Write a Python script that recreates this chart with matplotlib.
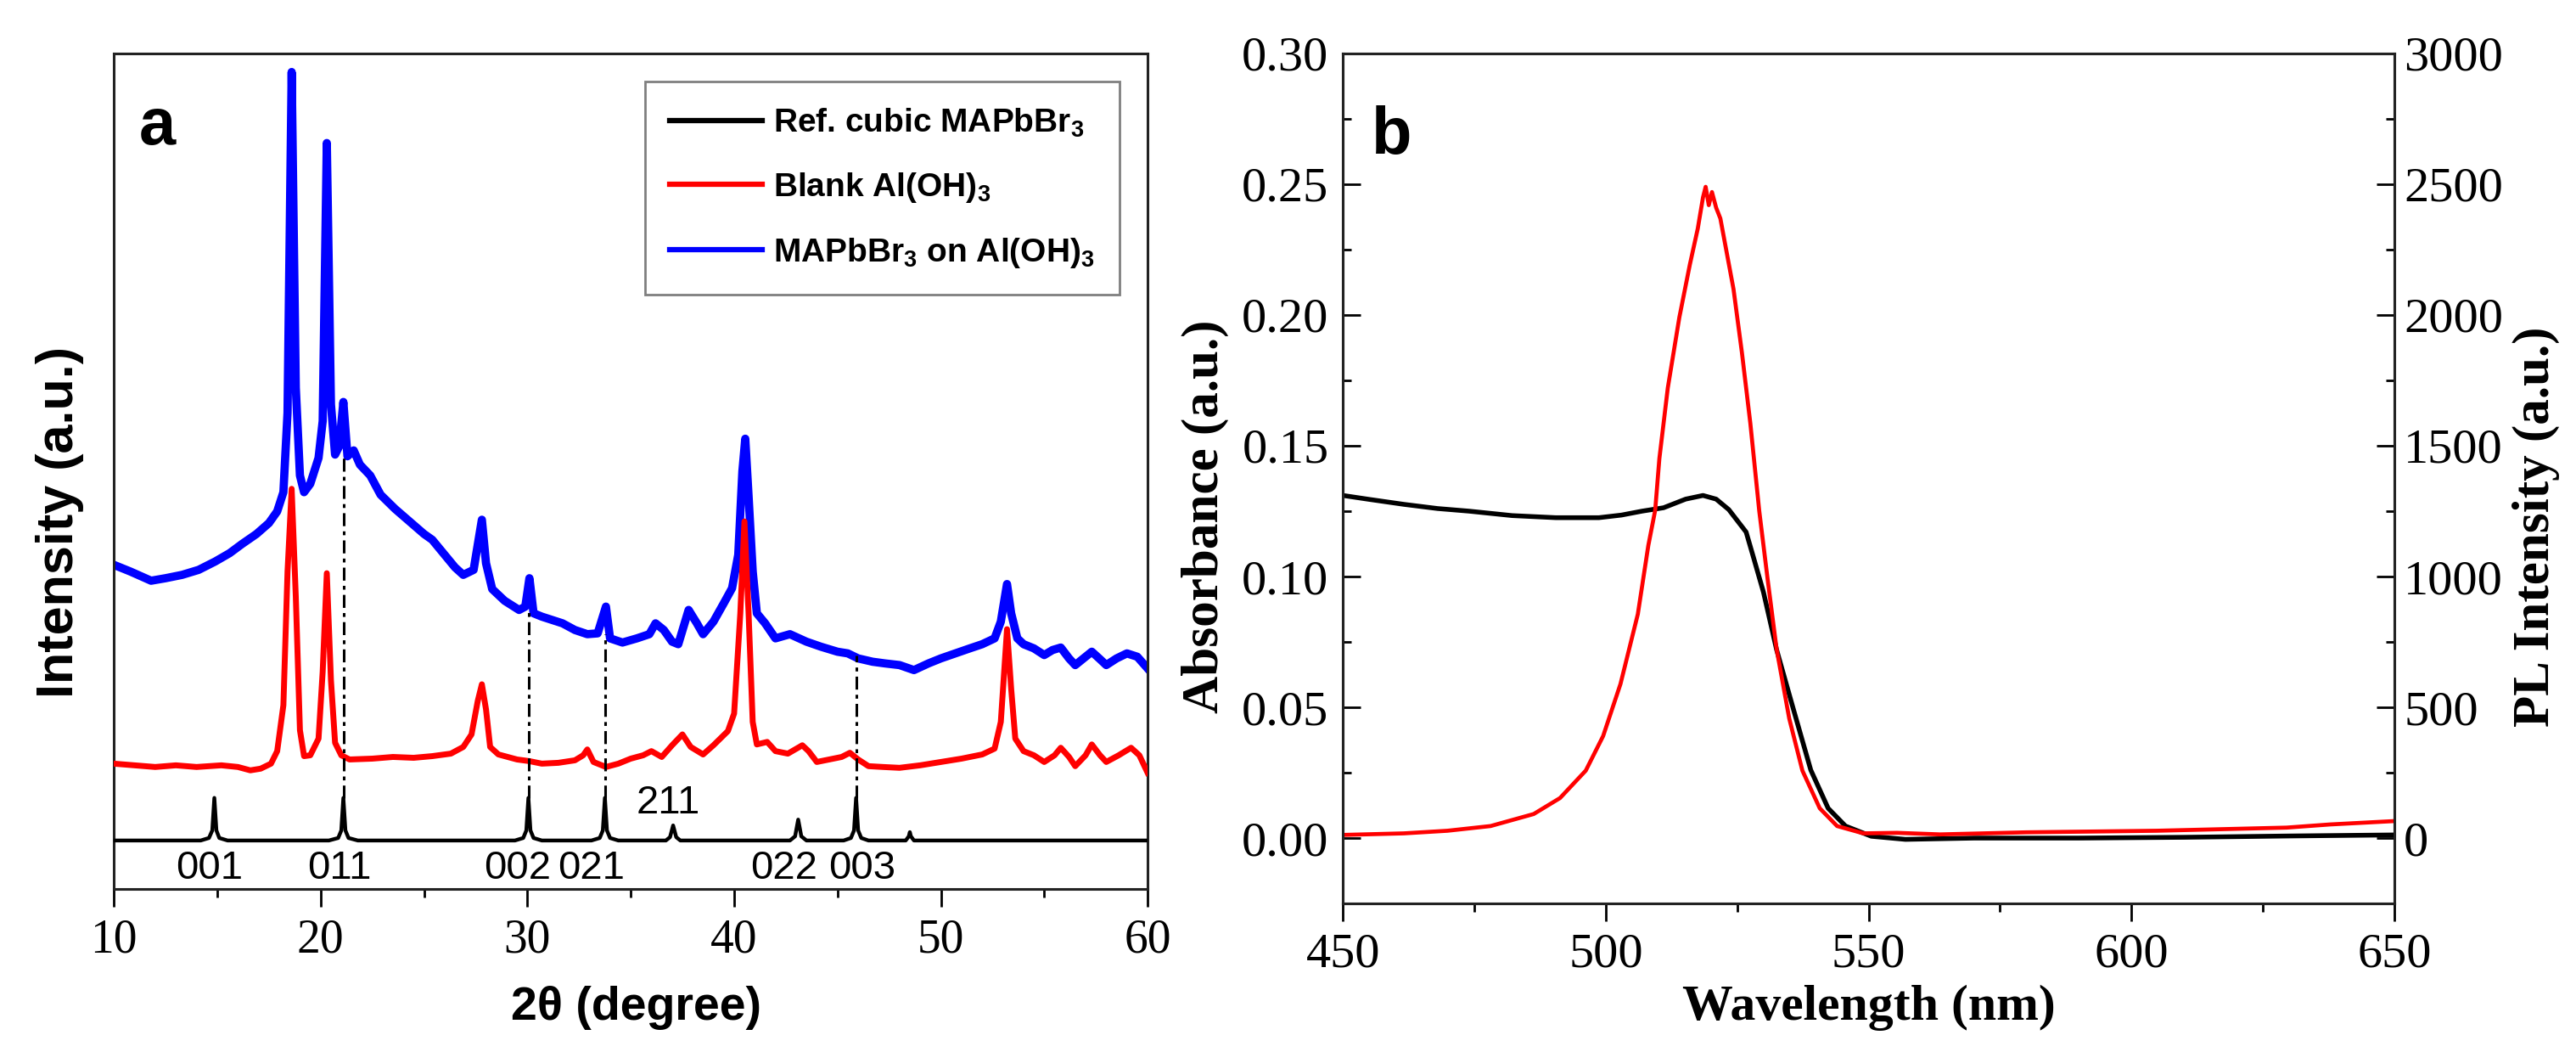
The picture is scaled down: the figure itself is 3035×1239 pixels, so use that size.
import matplotlib

matplotlib.use("Agg")
import matplotlib.pyplot as plt
from matplotlib.ticker import MultipleLocator


# --- Panel a: XRD patterns (intensity in arbitrary units, 0-1000) ------------
ref_2theta = [10.0, 14.2, 14.6, 14.76, 14.86, 14.96, 15.1, 15.5,
              20.4, 20.85, 21.0, 21.1, 21.2, 21.35, 21.8,
              29.4, 29.8, 29.95, 30.05, 30.15, 30.3, 30.7,
              33.1, 33.5, 33.65, 33.75, 33.85, 34.0, 34.4,
              36.7, 36.9, 37.05, 37.2, 37.4,
              42.7, 42.95, 43.1, 43.25, 43.5,
              45.3, 45.65, 45.8, 45.9, 46.0, 46.15, 46.5,
              48.3, 48.45, 48.5, 48.55, 48.7, 60.0]
ref_int = [58, 58, 61, 70, 109, 70, 61, 58,
           58, 61, 70, 109, 70, 61, 58,
           58, 61, 70, 109, 70, 61, 58,
           58, 61, 70, 109, 70, 61, 58,
           58, 62, 76, 62, 58,
           58, 63, 83, 63, 58,
           58, 61, 70, 109, 70, 61, 58,
           58, 63, 68, 63, 58, 58]

blank_2theta = [10.0, 11.0, 12.0, 13.0, 14.0, 15.2, 16.0, 16.6, 17.1, 17.6,
                17.9, 18.2, 18.4, 18.6, 18.8, 19.0, 19.2, 19.5, 19.9, 20.1,
                20.3, 20.5, 20.7, 21.0, 21.4, 22.5, 23.5, 24.5, 25.4, 26.3,
                26.9, 27.3, 27.6, 27.8, 28.0, 28.2, 28.6, 29.5, 30.1, 30.7,
                31.5, 32.3, 32.7, 32.9, 33.2, 33.8, 34.4, 35.0, 35.6, 36.0,
                36.5, 37.0, 37.5, 37.9, 38.5, 39.0, 39.7, 40.0, 40.3, 40.5,
                40.7, 40.9, 41.1, 41.6, 42.0, 42.6, 43.3, 43.6, 44.0, 44.6,
                45.2, 45.6, 46.0, 46.5, 47.2, 48.0, 49.0, 50.0, 51.0, 52.0,
                52.6, 52.9, 53.2, 53.4, 53.6, 54.0, 54.5, 55.0, 55.5, 55.8,
                56.2, 56.5, 57.0, 57.3, 57.7, 58.0, 58.6, 59.2, 59.6, 60.0]
blank_int = [150, 148, 146, 148, 146, 148, 146, 142, 144, 150,
             165, 220, 380, 479, 350, 190, 159, 160, 180, 260,
             378, 250, 175, 160, 155, 156, 158, 157, 159, 162,
             170, 185, 225, 245, 215, 170, 161, 155, 153, 150,
             151, 154, 160, 167, 152, 146, 150, 156, 160, 165,
             158, 172, 185, 170, 161, 172, 189, 210, 330, 440,
             330, 200, 173, 176, 165, 162, 172, 165, 152, 155,
             158, 163, 155, 147, 146, 145, 148, 152, 156, 161,
             168, 200, 311, 240, 180, 165, 160, 152, 160, 169,
             158, 147, 160, 173, 160, 152, 160, 169, 160, 139]

hybrid_2theta = [10.0, 10.8, 11.8, 12.5, 13.3, 14.1, 14.9, 15.6, 16.2, 16.9,
                 17.5, 17.9, 18.2, 18.4, 18.6, 18.8, 19.0, 19.2, 19.5, 19.9,
                 20.1, 20.3, 20.5, 20.7, 20.9, 21.1, 21.3, 21.6, 21.9, 22.4,
                 22.9, 23.6, 24.3, 25.0, 25.4, 26.0, 26.5, 26.9, 27.4, 27.8,
                 28.0, 28.3, 28.9, 29.6, 29.9, 30.1, 30.3, 30.7, 31.2, 31.7,
                 32.3, 32.9, 33.4, 33.8, 34.0, 34.6, 35.3, 35.9, 36.2, 36.6,
                 37.0, 37.3, 37.8, 38.2, 38.5, 39.0, 39.5, 39.9, 40.2, 40.4,
                 40.54, 40.7, 40.9, 41.1, 41.5, 42.0, 42.7, 43.5, 44.2, 45.0,
                 45.5, 46.0, 46.7, 47.3, 48.0, 48.7, 49.4, 50.0, 50.7, 51.4,
                 52.0, 52.6, 52.9, 53.2, 53.4, 53.7, 54.0, 54.5, 55.0, 55.4,
                 55.8, 56.2, 56.5, 57.0, 57.3, 57.7, 58.0, 58.5, 59.0, 59.5,
                 60.0]
hybrid_int = [388, 380, 369, 372, 376, 382, 392, 402, 413, 425,
              438, 452, 475, 570, 978, 600, 495, 475, 485, 516,
              560, 893, 580, 520, 530, 583, 518, 525, 508, 495,
              472, 455, 440, 425, 418, 400, 385, 376, 382, 442,
              390, 359, 345, 334, 338, 372, 330, 326, 322, 318,
              310, 305, 306, 338, 300, 295, 300, 305, 318, 310,
              296, 293, 334, 318, 305, 320, 342, 360, 400, 500,
              539, 470, 380, 330, 318, 300, 305, 296, 290, 284,
              282, 276, 272, 270, 268, 262, 270, 276, 282, 288,
              293, 300, 320, 365, 330, 300, 293, 288, 280, 286,
              289, 276, 268, 278, 284, 275, 268, 276, 282, 278,
              264]

hkl_labels = ["001", "011", "002", "021", "022", "003"]
hkl_label_x = [14.6, 20.9, 29.5, 33.1, 42.4, 46.2]
hkl_extra_label = "211"
hkl_extra_x = 36.8
guide_x = [21.1, 30.05, 33.75, 45.9]
guide_top = [520, 334, 305, 280]
guide_bottom = 109

# --- Panel b: absorbance (left axis) and PL (right axis) ----------------------
abs_wl = [450, 455, 461.6, 468, 474, 482.2, 490.5, 498.7, 503, 506.9,
          511, 515.2, 518.5, 521, 523.4, 526.7, 528.0, 530.0, 532.5, 535.8,
          539.0, 542.3, 545.6, 550.5, 557, 570, 590, 610, 630, 650]
abs_val = [0.131, 0.1295, 0.1276, 0.126, 0.125, 0.1233, 0.1225, 0.1225, 0.1235, 0.125,
           0.1263, 0.1296, 0.131, 0.1296, 0.1256, 0.117, 0.108, 0.094, 0.072, 0.0485,
           0.026, 0.0114, 0.0046, 0.0007, -0.0005, 0.0, 0.0, 0.0003, 0.0008, 0.0012]

pl_wl = [450, 461.6, 469.9, 478.1, 486.3, 491.3, 496.2, 499.5, 502.8, 506.1,
         508.1, 509.4, 510.2, 511.8, 514.0, 516.0, 517.5, 518.5, 519.0, 519.6,
         520.2, 521.0, 521.8, 524.3, 525.9, 527.5, 529.2, 530.8, 532.5, 534.9,
         537.4, 540.7, 544.0, 549.0, 555.4, 563.6, 580, 604.8, 629.5, 637.7,
         650]
pl_val = [12, 18, 28, 46, 92, 153, 258, 390, 589, 856,
          1119, 1253, 1451, 1721, 1991, 2193, 2330, 2450, 2490, 2420,
          2470, 2410, 2369, 2099, 1856, 1586, 1250, 988, 722, 457,
          258, 114, 46, 18, 20, 14, 22, 28, 40, 52,
          65]

SANS = "Liberation Sans"
SERIF = "Liberation Serif"

plt.rcParams["font.family"] = SANS
plt.rcParams["mathtext.fontset"] = "custom"
plt.rcParams["mathtext.rm"] = "Liberation Sans:bold"
plt.rcParams["mathtext.it"] = "Liberation Sans:bold"
plt.rcParams["mathtext.bf"] = "Liberation Sans:bold"

fig = plt.figure(figsize=(30.35, 12.39), dpi=100)
fig.patch.set_facecolor("white")

# ---------------------------------------------------------------- panel a
ax_a = fig.add_axes([0.0442, 0.155, 0.4013, 0.794])
ax_a.plot(hybrid_2theta, hybrid_int, color="#0000ff", lw=7.0, zorder=2,
          solid_joinstyle="round", label=r"MAPbBr$_3$ on Al(OH)$_3$")
ax_a.plot(blank_2theta, blank_int, color="#ff0000", lw=5.0, zorder=3,
          solid_joinstyle="round", label=r"Blank Al(OH)$_3$")
ax_a.plot(ref_2theta, ref_int, color="black", lw=3.2, zorder=4,
          solid_joinstyle="round", label=r"Ref. cubic MAPbBr$_3$")
for gx, gt in zip(guide_x, guide_top):
    ax_a.plot([gx, gx], [guide_bottom, gt], color="black", lw=2.2,
              linestyle=(0, (5, 2, 1.5, 2)), zorder=5)
for lbl, lx in zip(hkl_labels, hkl_label_x):
    ax_a.text(lx, 24, lbl, ha="center", va="center", fontsize=34, zorder=6)
ax_a.text(hkl_extra_x, 103, hkl_extra_label, ha="center", va="center",
          fontsize=34, zorder=6)
ax_a.text(0.024, 0.891, "a", transform=ax_a.transAxes, fontsize=56,
          fontweight="bold", ha="left", va="baseline")

ax_a.set_xlim(10, 60)
ax_a.set_ylim(0, 1000)
ax_a.set_yticks([])
ax_a.xaxis.set_major_locator(MultipleLocator(10))
ax_a.xaxis.set_minor_locator(MultipleLocator(5))
ax_a.tick_params(axis="x", which="major", direction="out", length=15,
                 width=2, pad=10, labelsize=40, labelfontfamily=SERIF)
ax_a.tick_params(axis="x", which="minor", direction="out", length=7, width=2)
for sp in ax_a.spines.values():
    sp.set_linewidth(2.2)
    sp.set_color("#222222")

handles, labels = ax_a.get_legend_handles_labels()
leg = ax_a.legend(handles[::-1], labels[::-1], loc="upper right",
                  bbox_to_anchor=(1.0, 1.0), borderaxespad=0.85,
                  prop={"family": SANS, "weight": "bold", "size": 28},
                  handlelength=2.8, handletextpad=0.35, labelspacing=0.95,
                  borderpad=0.75, fancybox=False, framealpha=1.0)
leg.get_frame().set_edgecolor("#7f7f7f")
leg.get_frame().set_linewidth(2.0)
for line in leg.get_lines():
    line.set_linewidth(4.5)

fig.text(71 / 3035, 0.504, "Intensity (a.u.)", rotation=90, ha="center",
         va="center", fontsize=44, fontweight="bold", family=SANS)
fig.text(0.247, 0.042, "2θ (degree)", ha="center", va="center",
         fontsize=40, fontweight="bold", family=SANS)

# ---------------------------------------------------------------- panel b
ax_b = fig.add_axes([0.5213, 0.1412, 0.4082, 0.808])
ax_b.plot(abs_wl, abs_val, color="black", lw=4.0)
ax_b.set_xlim(450, 650)
ax_b.set_ylim(-0.025, 0.30)
ax_b.xaxis.set_major_locator(MultipleLocator(50))
ax_b.xaxis.set_minor_locator(MultipleLocator(25))
ax_b.yaxis.set_major_locator(MultipleLocator(0.05))
ax_b.yaxis.set_minor_locator(MultipleLocator(0.025))
ax_b.yaxis.set_major_formatter(plt.FormatStrFormatter("%.2f"))
ax_b.tick_params(axis="x", which="major", direction="out", length=15,
                 width=2, pad=10, labelsize=42, labelfontfamily=SERIF)
ax_b.tick_params(axis="x", which="minor", direction="out", length=7, width=2)
ax_b.tick_params(axis="y", which="major", direction="in", length=15,
                 width=2, pad=12, labelsize=42, labelfontfamily=SERIF)
ax_b.tick_params(axis="y", which="minor", direction="in", length=7, width=2)
for sp in ax_b.spines.values():
    sp.set_linewidth(2.2)
    sp.set_color("#222222")
ax_b.text(0.027, 0.882, "b", transform=ax_b.transAxes, fontsize=56,
          fontweight="bold", ha="left", va="baseline")

ax_pl = ax_b.twinx()
ax_pl.plot(pl_wl, pl_val, color="#ff0000", lw=3.4)
ax_pl.set_ylim(-250, 3000)
ax_pl.yaxis.set_major_locator(MultipleLocator(500))
ax_pl.yaxis.set_minor_locator(MultipleLocator(250))
ax_pl.tick_params(axis="y", which="major", direction="in", length=15,
                  width=2, pad=8, labelsize=42, labelfontfamily=SERIF)
ax_pl.tick_params(axis="y", which="minor", direction="in", length=7, width=2)
for sp in ax_pl.spines.values():
    sp.set_linewidth(2.2)
    sp.set_color("#222222")

fig.text(0.468, 0.509, "Absorbance (a.u.)", rotation=90, ha="center",
         va="center", fontsize=44, fontweight="bold", family=SERIF)
fig.text(0.9845, 0.499, "PL Intensity (a.u.)", rotation=90, ha="center",
         va="center", fontsize=44, fontweight="bold", family=SERIF)
fig.text(0.7255, 0.042, "Wavelength (nm)", ha="center", va="center",
         fontsize=43, fontweight="bold", family=SERIF)

fig.savefig("out.png", dpi=100, facecolor="white")
